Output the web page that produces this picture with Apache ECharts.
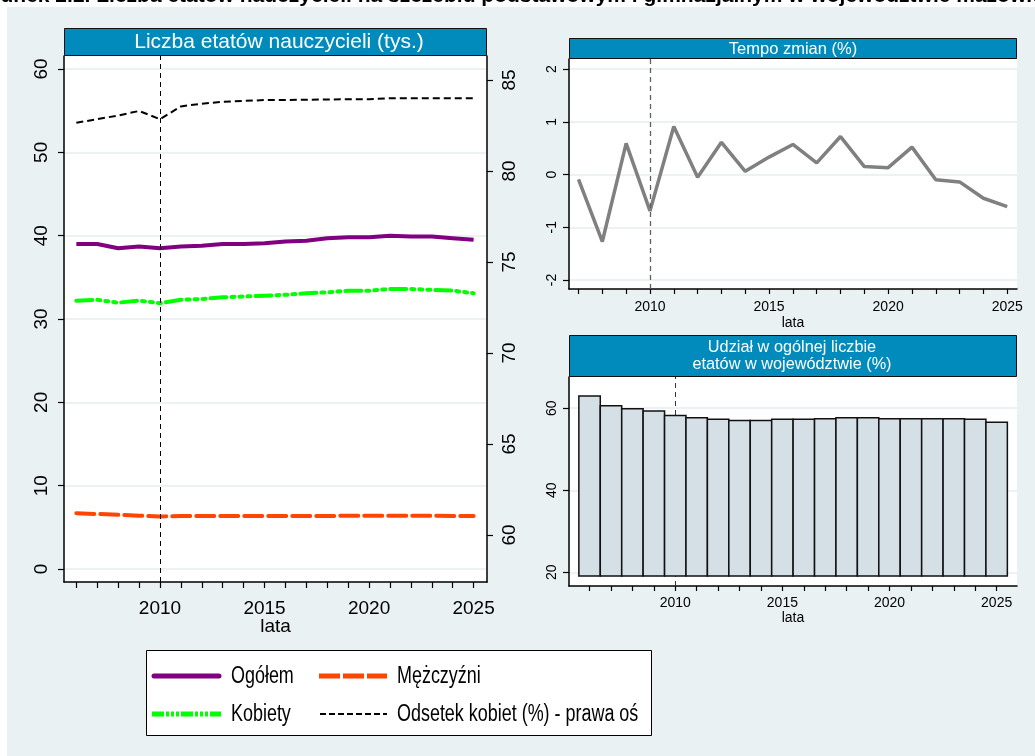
<!DOCTYPE html>
<html>
<head>
<meta charset="utf-8">
<script src="https://cdn.jsdelivr.net/npm/echarts@6/dist/echarts.min.js"></script>
<style>
html,body{margin:0;padding:0;background:#fff;}
#c{width:1035px;height:756px;}
</style>
</head>
<body>
<div id="c"></div>
<script>
// ---- data ----
const years = [2006,2007,2008,2009,2010,2011,2012,2013,2014,2015,2016,2017,2018,2019,2020,2021,2022,2023,2024,2025];
const ogolem = [39.0,39.0,38.5,38.7,38.5,38.7,38.8,39.0,39.0,39.1,39.3,39.4,39.7,39.8,39.8,40.0,39.9,39.9,39.7,39.5];
const kobiety = [32.2,32.3,31.96,32.2,31.9,32.3,32.4,32.6,32.7,32.8,32.9,33.1,33.2,33.4,33.4,33.6,33.6,33.5,33.4,33.1];
const mezczyzni = [6.7,6.6,6.5,6.4,6.3,6.35,6.35,6.35,6.35,6.35,6.35,6.35,6.35,6.4,6.4,6.4,6.4,6.4,6.35,6.35];
const odsetek = [82.65,82.85,83.05,83.3,82.85,83.55,83.7,83.8,83.85,83.9,83.9,83.92,83.93,83.95,83.95,84.0,84.0,84.0,84.0,84.0];
const tempoYears = [2007,2008,2009,2010,2011,2012,2013,2014,2015,2016,2017,2018,2019,2020,2021,2022,2023,2024,2025];
const tempo = [-0.09,-1.27,0.59,-0.69,0.91,-0.05,0.61,0.06,0.33,0.57,0.22,0.72,0.15,0.13,0.52,-0.10,-0.14,-0.45,-0.61];
const udzial = [63.0,60.6,59.85,59.3,58.2,57.7,57.3,57.0,57.0,57.3,57.3,57.4,57.65,57.65,57.4,57.4,57.4,57.4,57.3,56.6];
const xLabelYears = [2010,2015,2020,2025];
const leftTicks = [0,10,20,30,40,50,60];
const rightTicks = [60,65,70,75,80,85];
const tempoTicks = [-2,-1,0,1,2];
const udzialTicks = [20,40,60];
const refYear = 2010;
const barBase = 19.1;
const seriesNames = ['Ogółem', 'Kobiety', 'Mężczyźni', 'Odsetek kobiet (%) - prawa oś'];

const FONT = '"Liberation Sans", Arial, sans-serif';
const BLUE = '#008bbc';
const GRIDC = '#e6eef0';
const COL = {ogolem: '#800080', kobiety: '#00ff00', mezczyzni: '#ff4500', odsetek: '#000000'};

const zip = (a, b) => a.map((v, i) => [v, b[i]]);

function xAxisDef(gridIndex, min, max, fs, margin, nameGap, tickLen) {
  return {
    type: 'value', gridIndex, min, max,
    axisLine: {show: true, onZero: false, lineStyle: {color: '#000', width: 1.5}},
    axisTick: {show: true, length: tickLen, lineStyle: {color: '#000', width: 1.2}, customValues: years},
    axisLabel: {customValues: xLabelYears, fontSize: fs, color: '#000', fontFamily: FONT, margin,
      formatter: v => String(Math.round(v))},
    splitLine: {show: false},
    name: 'lata', nameLocation: 'middle', nameGap, nameMoveOverlap: false,
    nameTextStyle: {fontSize: fs, color: '#000', fontFamily: FONT}
  };
}
function yAxisDef(gridIndex, min, max, ticks, fs, margin, pos, showSplit) {
  return {
    type: 'value', gridIndex, min, max, position: pos,
    axisLine: {show: true, onZero: false, lineStyle: {color: '#000', width: 1.5}},
    axisTick: {show: true, length: 6, lineStyle: {color: '#000', width: 1.2}, customValues: ticks},
    axisLabel: {customValues: ticks, rotate: 90, fontSize: fs, color: '#000', fontFamily: FONT, margin,
      formatter: v => String(v)},
    splitLine: {show: showSplit, lineStyle: {color: GRIDC, width: 1.5}}
  };
}

function legendLine(x1, x2, y, color, width, dash) {
  return {type: 'line', z: 20, shape: {x1, y1: y, x2, y2: y},
    style: {stroke: color, lineWidth: width, lineDash: dash, lineCap: dash ? 'butt' : 'round'}};
}
function legendText(x, y, text) {
  return {type: 'text', z: 20, x, y, scaleX: 0.78,
    style: {text, font: '23px ' + FONT, fill: '#000', verticalAlign: 'middle', align: 'left'}};
}

const chart = echarts.init(document.getElementById('c'));
const option = {
  animation: false,
  backgroundColor: '#ffffff',
  textStyle: {fontFamily: FONT},
  graphic: [
    {type: 'rect', z: -10, shape: {x: 7, y: 7, width: 1028, height: 749}, style: {fill: '#eaf1f3'}},
    {type: 'text', z: 5, x: -38, y: 7, style: {text: 'Rysunek 2.2. Liczba etatów nauczycieli na szczeblu podstawowym i gimnazjalnym w województwie mazowieckim', font: 'bold 21px ' + FONT, fill: '#000', verticalAlign: 'bottom'}},
    // headers
    {type: 'rect', shape: {x: 64.5, y: 28.5, width: 422, height: 27}, style: {fill: BLUE, stroke: '#111', lineWidth: 1}},
    {type: 'text', x: 279, y: 42.5, style: {text: 'Liczba etatów nauczycieli (tys.)', font: '21px ' + FONT, fill: '#fff', align: 'center', verticalAlign: 'middle'}},
    {type: 'rect', shape: {x: 569.5, y: 38.5, width: 447, height: 20}, style: {fill: BLUE, stroke: '#111', lineWidth: 1}},
    {type: 'text', x: 793, y: 49, style: {text: 'Tempo zmian (%)', font: '16.5px ' + FONT, fill: '#fff', align: 'center', verticalAlign: 'middle'}},
    {type: 'rect', shape: {x: 569.5, y: 335.5, width: 447, height: 41}, style: {fill: BLUE, stroke: '#111', lineWidth: 1}},
    {type: 'text', x: 792, y: 356, style: {text: 'Udział w ogólnej liczbie\netatów w województwie (%)', font: '16.3px ' + FONT, lineHeight: 16.5, fill: '#fff', align: 'center', verticalAlign: 'middle'}},
    // legend box
    {type: 'rect', z: 19, shape: {x: 146.5, y: 650.5, width: 505, height: 85}, style: {fill: '#fff', stroke: '#000', lineWidth: 1}},
    legendLine(154, 219, 676, COL.ogolem, 5, null),
    legendText(231, 677, seriesNames[0]),
    legendLine(152, 221, 714, COL.kobiety, 5, [12, 2, 3, 2, 3, 2, 3, 2]),
    legendText(231, 715, seriesNames[1]),
    legendLine(319, 387, 676, COL.mezczyzni, 5, [21, 3]),
    legendText(397, 677, seriesNames[2]),
    legendLine(320, 387, 714, COL.odsetek, 2, [6, 3]),
    legendText(397, 715, seriesNames[3])
  ],
  grid: [
    {left: 64, right: 548, top: 56, bottom: 174, show: true, backgroundColor: '#fff', borderWidth: 0},
    {left: 569, right: 18, top: 59, bottom: 467, show: true, backgroundColor: '#fff', borderWidth: 0},
    {left: 569, right: 18, top: 377, bottom: 170, show: true, backgroundColor: '#fff', borderWidth: 0}
  ],
  xAxis: [
    xAxisDef(0, 2005.41, 2025.64, 19, 17, 35, 6),
    xAxisDef(1, 2006.6, 2025.41, 14, 11, 27, 5),
    xAxisDef(2, 2005.04, 2025.95, 14, 10, 25, 5)
  ],
  yAxis: [
    yAxisDef(0, -1.56, 61.56, leftTicks, 19, 13, 'left', true),
    yAxisDef(0, 57.42, 86.32, rightTicks, 19, 13, 'right', false),
    yAxisDef(1, -2.17, 2.19, tempoTicks, 14, 10, 'left', true),
    yAxisDef(2, 16.67, 67.6, udzialTicks, 14, 10, 'left', true)
  ],
  series: [
    {name: seriesNames[0], type: 'line', xAxisIndex: 0, yAxisIndex: 0, data: zip(years, ogolem), symbol: 'none',
     lineStyle: {color: COL.ogolem, width: 4}, itemStyle: {color: COL.ogolem},
     markLine: {silent: true, symbol: 'none', label: {show: false}, data: [{xAxis: refYear}],
       lineStyle: {color: '#000', type: [5, 4], width: 1}}},
    {name: seriesNames[1], type: 'line', xAxisIndex: 0, yAxisIndex: 0, data: zip(years, kobiety), symbol: 'none',
     lineStyle: {color: COL.kobiety, width: 4, type: [16, 5, 3, 5, 3, 5, 3, 5], cap: 'round'}, itemStyle: {color: COL.kobiety}},
    {name: seriesNames[2], type: 'line', xAxisIndex: 0, yAxisIndex: 0, data: zip(years, mezczyzni), symbol: 'none',
     lineStyle: {color: COL.mezczyzni, width: 4, type: [18, 6], cap: 'round'}, itemStyle: {color: COL.mezczyzni}},
    {name: seriesNames[3], type: 'line', xAxisIndex: 0, yAxisIndex: 1, data: zip(years, odsetek), symbol: 'none',
     lineStyle: {color: COL.odsetek, width: 2, type: [7, 4]}, itemStyle: {color: COL.odsetek}},
    {name: 'Tempo zmian', type: 'line', xAxisIndex: 1, yAxisIndex: 2, data: zip(tempoYears, tempo), symbol: 'none',
     lineStyle: {color: '#808080', width: 3.5}, itemStyle: {color: '#808080'},
     markLine: {silent: true, symbol: 'none', label: {show: false}, data: [{xAxis: refYear}],
       lineStyle: {color: '#606060', type: [5, 4], width: 1.3}}},
    {name: 'Udział', type: 'custom', xAxisIndex: 2, yAxisIndex: 3, z: 10, data: zip(years, udzial),
     renderItem: function (params, api) {
       const x = api.value(0), v = api.value(1);
       const p1 = api.coord([x - 0.5, v]);
       const p2 = api.coord([x + 0.5, barBase]);
       return {type: 'rect', shape: {x: p1[0], y: p1[1], width: p2[0] - p1[0], height: p2[1] - p1[1]},
         style: {fill: '#d5dfe6', stroke: '#111', lineWidth: 1.5}};
     }},
    {name: 'ref', type: 'line', xAxisIndex: 2, yAxisIndex: 3, z: 1, data: [], symbol: 'none',
     markLine: {silent: true, symbol: 'none', label: {show: false}, z: 1, data: [{xAxis: refYear}],
       lineStyle: {color: '#333', type: [5, 4], width: 1}}}
  ]
};
chart.setOption(option);
</script>
</body>
</html>
